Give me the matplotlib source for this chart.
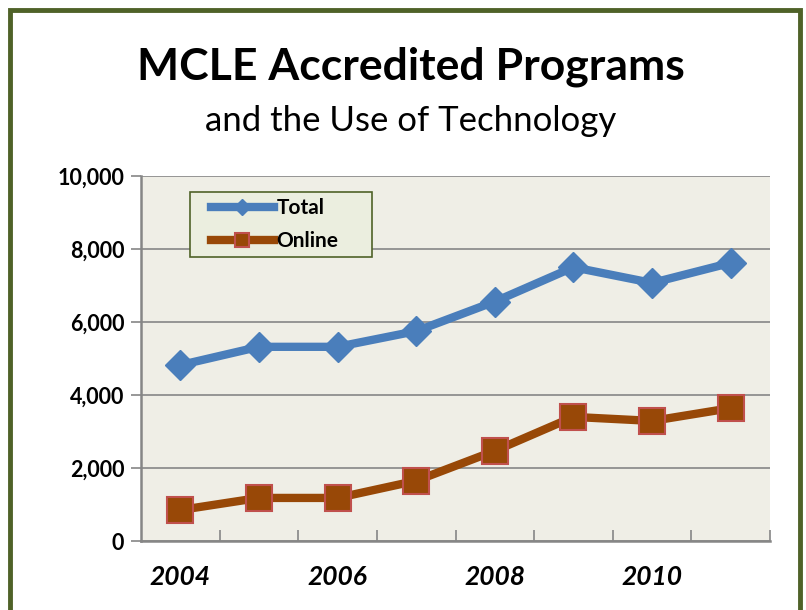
import matplotlib

matplotlib.use("Agg")
import matplotlib.pyplot as plt
from matplotlib.patches import Rectangle
from matplotlib.ticker import FuncFormatter, FixedLocator

YEARS = [2004, 2005, 2006, 2007, 2008, 2009, 2010, 2011]
TOTAL = [4820, 5320, 5320, 5750, 6560, 7500, 7070, 7620]
ONLINE = [850, 1180, 1180, 1650, 2470, 3400, 3290, 3640]
YEAR_LABELS = ["2004", "", "2006", "", "2008", "", "2010", ""]

TITLE = "MCLE Accredited Programs"
SUBTITLE = "and the Use of Technology"

COLOR_TOTAL = "#4a7ebb"
COLOR_ONLINE = "#984807"
COLOR_ONLINE_EDGE = "#c0504d"
COLOR_FRAME = "#4f6228"
COLOR_PLOT_BG = "#efeee6"
COLOR_GRID = "#868686"
FONT = "Lato"

W, H = 806, 610
AX_L, AX_R, AX_T, AX_B = 141, 770, 176, 541
AX_W, AX_H = AX_R - AX_L, AX_B - AX_T

fig = plt.figure(figsize=(W / 100, H / 100), dpi=100)
fig.patch.set_facecolor("white")

# olive frame round the chart (bottom edge cut off in the original)
fig.add_artist(Rectangle((10 / W, -0.05), 790 / W, 1.05 - 10 / H, transform=fig.transFigure,
                         fill=False, edgecolor=COLOR_FRAME, linewidth=3.5))

ax = fig.add_axes([AX_L / W, (H - AX_B) / H, AX_W / W, AX_H / H])
ax.set_facecolor(COLOR_PLOT_BG)

x = list(range(len(YEARS)))
ax.plot(x, TOTAL, color=COLOR_TOTAL, linewidth=6, marker="D", markersize=15,
        markerfacecolor=COLOR_TOTAL, markeredgecolor=COLOR_TOTAL, label="Total", zorder=3)
ax.plot(x, ONLINE, color=COLOR_ONLINE, linewidth=6, marker="s", markersize=19,
        markerfacecolor=COLOR_ONLINE, markeredgecolor=COLOR_ONLINE_EDGE, markeredgewidth=1.5,
        label="Online", zorder=3)

ax.set_xlim(-0.5, len(YEARS) - 0.5)
ax.set_ylim(0, 10000)
ax.set_yticks(range(0, 10001, 2000))
ax.yaxis.set_major_formatter(FuncFormatter(lambda v, _: f"{int(v):,}"))
ax.grid(True, axis="y", color=COLOR_GRID, linewidth=1.2)
ax.set_axisbelow(True)

# category boundaries as ticks, labels centred under every other year
ax.xaxis.set_major_locator(FixedLocator([i + 0.5 for i in range(len(YEARS))]))
ax.xaxis.set_minor_locator(FixedLocator(x))
ax.set_xticklabels([""] * len(YEARS))
ax.set_xticklabels(YEAR_LABELS, minor=True)
ax.tick_params(axis="x", which="major", direction="in", length=8, color=COLOR_GRID, width=1.2)
ax.tick_params(axis="x", which="minor", length=0, pad=17)
ax.tick_params(axis="y", length=7, color=COLOR_GRID, width=1.2, pad=5)
for lbl in ax.get_xticklabels(minor=True):
    lbl.set_fontfamily(FONT)
    lbl.set_fontsize(19)
    lbl.set_fontweight("bold")
    lbl.set_fontstyle("italic")
for lbl in ax.get_yticklabels():
    lbl.set_fontfamily(FONT)
    lbl.set_fontsize(15.5)
    lbl.set_fontweight("bold")

for spine in ("top", "right"):
    ax.spines[spine].set_visible(False)
for spine in ("left", "bottom"):
    ax.spines[spine].set_color(COLOR_GRID)
    ax.spines[spine].set_linewidth(1.8)

# legend box drawn by hand so it can be as wide as in the original
ax.add_patch(Rectangle(((190 - AX_L) / AX_W, 1 - (257 - AX_T) / AX_H), 182 / AX_W, 65 / AX_H,
                       transform=ax.transAxes, facecolor="#ebeedf", edgecolor=COLOR_FRAME,
                       linewidth=1.2, zorder=4))
leg = ax.legend(loc="upper left", bbox_to_anchor=((211 - AX_L) / AX_W, 1 - (198 - AX_T) / AX_H),
                frameon=False, handlelength=3.0, handletextpad=0.15, borderpad=0,
                borderaxespad=0, labelspacing=0.62,
                prop={"family": FONT, "weight": "bold", "size": 15}, markerscale=0.55)
leg.set_zorder(5)

fig.text(411 / W, 1 - 67 / H, TITLE, ha="center", va="center", fontsize=32,
         fontweight="bold", family=FONT)
fig.text(411 / W, 1 - 121 / H, SUBTITLE, ha="center", va="center", fontsize=25, family=FONT)

fig.savefig("out.png", dpi=100, facecolor="white")
